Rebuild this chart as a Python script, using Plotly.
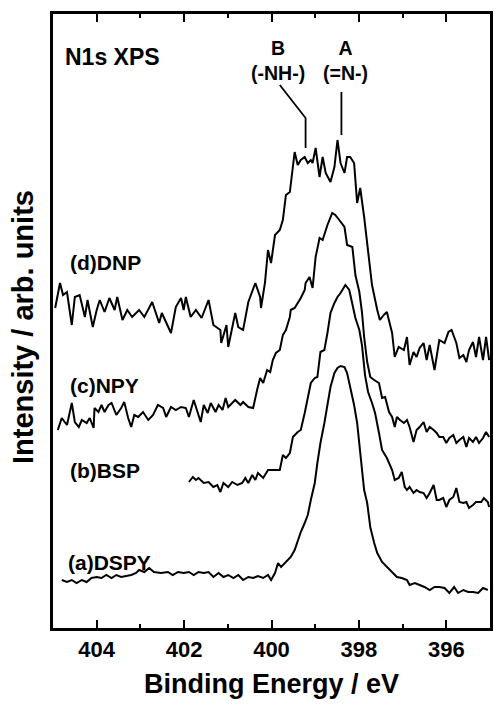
import plotly.graph_objects as go

# ---- data (binding energy in eV, intensity in arb. units) ----
dnp_x = [404.95, 404.84, 404.77, 404.68, 404.57, 404.50, 404.39, 404.27, 404.21, 404.09,
         404.00, 403.93, 403.82, 403.71, 403.59, 403.53, 403.41, 403.30, 403.19, 403.03,
         402.91, 402.73, 402.57, 402.51, 402.30, 402.19, 402.07, 402.01, 401.96, 401.85,
         401.73, 401.60, 401.44, 401.33, 401.17, 401.15, 401.03, 400.99, 400.83, 400.76,
         400.65, 400.53, 400.37, 400.26, 400.24, 400.15, 400.08, 400.01, 399.92, 399.81,
         399.74, 399.67, 399.58, 399.47, 399.40, 399.33, 399.24, 399.17, 399.10, 399.06,
         398.99, 398.90, 398.83, 398.76, 398.65, 398.56, 398.49, 398.42, 398.33, 398.27,
         398.20, 398.11, 398.04, 397.97, 397.88, 397.81, 397.74, 397.70, 397.58, 397.52,
         397.43, 397.36, 397.24, 397.18, 397.09, 396.97, 396.90, 396.84, 396.75, 396.68,
         396.61, 396.52, 396.45, 396.38, 396.27, 396.16, 396.04, 395.95, 395.88, 395.77,
         395.70, 395.61, 395.54, 395.48, 395.39, 395.32, 395.25, 395.16, 395.09, 395.02]
dnp_y = [320, 345, 333, 336, 303, 331, 333, 311, 328, 301,
         318, 328, 316, 330, 318, 331, 308, 318, 311, 318,
         311, 326, 305, 315, 295, 321, 330, 318, 331, 311,
         318, 310, 328, 303, 298, 285, 303, 281, 315, 301,
         298, 326, 345, 331, 320, 345, 378, 365, 393, 398,
         408, 433, 436, 476, 463, 468, 471, 465, 468, 465,
         480, 451, 471, 455, 446, 461, 488, 465, 455, 471,
         471, 465, 425, 440, 411, 385, 358, 343, 318, 308,
         313, 316, 295, 271, 281, 278, 291, 263, 276, 271,
         280, 285, 268, 283, 258, 288, 285, 296, 298, 285,
         270, 273, 266, 278, 286, 271, 291, 268, 291, 268]

npy_x = [404.89, 404.80, 404.68, 404.57, 404.50, 404.41, 404.34, 404.23, 404.16, 404.07,
         404.05, 403.96, 403.89, 403.82, 403.73, 403.66, 403.55, 403.44, 403.37, 403.28,
         403.21, 403.14, 403.05, 402.94, 402.82, 402.71, 402.60, 402.48, 402.41, 402.30,
         402.19, 402.07, 401.96, 401.89, 401.78, 401.69, 401.62, 401.55, 401.46, 401.39,
         401.28, 401.21, 401.12, 401.05, 400.99, 400.90, 400.83, 400.71, 400.65, 400.53,
         400.42, 400.33, 400.26, 400.19, 400.10, 400.03, 399.97, 399.90, 399.81, 399.74,
         399.67, 399.58, 399.56, 399.47, 399.40, 399.33, 399.24, 399.22, 399.13, 399.06,
         398.99, 398.90, 398.83, 398.72, 398.61, 398.54, 398.45, 398.33, 398.27, 398.15,
         398.08, 397.99, 397.93, 397.88, 397.81, 397.74, 397.65, 397.54, 397.47, 397.40,
         397.31, 397.24, 397.18, 397.13, 397.06, 396.97, 396.90, 396.84, 396.75, 396.68,
         396.61, 396.52, 396.45, 396.38, 396.29, 396.22, 396.16, 396.07, 396.00, 395.93,
         395.84, 395.77, 395.70, 395.61, 395.54, 395.48, 395.39, 395.32, 395.25, 395.16,
         395.09, 395.02]
npy_y = [198, 210, 203, 225, 206, 201, 208, 205, 210, 200,
         220, 216, 223, 216, 223, 225, 213, 220, 226, 210,
         201, 213, 211, 216, 208, 213, 223, 220, 211, 221,
         218, 221, 220, 211, 228, 216, 206, 223, 215, 225,
         216, 223, 218, 230, 221, 225, 228, 223, 226, 221,
         220, 238, 250, 245, 258, 256, 268, 275, 278, 293,
         298, 311, 318, 320, 325, 330, 338, 345, 351, 340,
         371, 390, 388, 403, 415, 413, 408, 401, 383, 381,
         353, 336, 316, 291, 266, 251, 248, 245, 230, 231,
         216, 211, 201, 211, 208, 205, 208, 201, 186, 198,
         201, 206, 196, 201, 198, 195, 191, 191, 185, 190,
         193, 185, 188, 191, 181, 190, 186, 191, 185, 190,
         196, 191]

bsp_x = [401.89, 401.80, 401.73, 401.67, 401.55, 401.44, 401.33, 401.24, 401.17, 401.10,
         400.99, 400.90, 400.78, 400.67, 400.60, 400.53, 400.44, 400.37, 400.31, 400.19,
         400.08, 399.97, 399.81, 399.74, 399.67, 399.58, 399.51, 399.40, 399.33, 399.24,
         399.17, 399.10, 399.01, 398.95, 398.88, 398.79, 398.72, 398.65, 398.56, 398.49,
         398.42, 398.38, 398.31, 398.22, 398.15, 398.08, 397.99, 397.93, 397.86, 397.79,
         397.70, 397.63, 397.54, 397.47, 397.36, 397.24, 397.18, 397.09, 397.02, 396.95,
         396.90, 396.84, 396.75, 396.68, 396.61, 396.52, 396.45, 396.38, 396.29, 396.22,
         396.16, 396.07, 396.00, 395.93, 395.84, 395.77, 395.70, 395.61, 395.54, 395.48,
         395.39, 395.32, 395.20, 395.14, 395.05, 395.02]
bsp_y = [146, 151, 148, 150, 145, 146, 141, 143, 136, 145,
         141, 146, 143, 145, 150, 145, 153, 148, 155, 150,
         158, 158, 158, 173, 170, 175, 191, 196, 198, 215,
         231, 245, 250, 251, 276, 278, 295, 315, 325, 331,
         335, 338, 343, 338, 325, 310, 298, 283, 253, 236,
         225, 215, 195, 178, 170, 158, 148, 150, 156, 141,
         138, 141, 135, 138, 136, 135, 130, 135, 143, 128,
         128, 130, 121, 128, 131, 140, 126, 125, 126, 120,
         123, 126, 126, 130, 126, 121]

dspy_x = [404.80, 404.68, 404.57, 404.46, 404.34, 404.23, 404.12, 404.00, 403.89, 403.78,
          403.66, 403.55, 403.44, 403.32, 403.21, 403.10, 403.03, 402.91, 402.80, 402.69,
          402.53, 402.37, 402.26, 402.14, 402.01, 401.89, 401.78, 401.67, 401.55, 401.44,
          401.33, 401.21, 401.10, 400.99, 400.87, 400.76, 400.65, 400.53, 400.42, 400.31,
          400.19, 400.08, 400.01, 399.92, 399.85, 399.78, 399.67, 399.56, 399.47, 399.40,
          399.33, 399.24, 399.17, 399.10, 399.01, 398.95, 398.88, 398.79, 398.72, 398.65,
          398.56, 398.49, 398.42, 398.33, 398.27, 398.20, 398.11, 398.04, 397.97, 397.93,
          397.88, 397.81, 397.74, 397.65, 397.58, 397.47, 397.36, 397.24, 397.13, 397.02,
          396.90, 396.84, 396.72, 396.61, 396.50, 396.38, 396.27, 396.16, 396.04, 395.93,
          395.82, 395.73, 395.61, 395.50, 395.39, 395.27, 395.16, 395.05]
dspy_y = [48, 46, 48, 45, 48, 46, 50, 51, 50, 53,
          50, 53, 51, 52, 53, 55, 58, 56, 60, 56,
          55, 56, 53, 56, 55, 56, 53, 56, 55, 56,
          51, 55, 51, 53, 50, 53, 48, 51, 50, 52,
          50, 53, 48, 55, 65, 61, 66, 71, 78, 88,
          96, 105, 113, 128, 145, 165, 185, 205, 225, 241,
          255, 260, 262, 261, 255, 241, 223, 205, 178, 161,
          138, 125, 101, 85, 75, 66, 61, 55, 51, 50,
          48, 43, 45, 43, 41, 38, 41, 41, 40, 35,
          41, 35, 38, 36, 36, 35, 40, 38]

series_names = ["(d)DNP", "(c)NPY", "(b)BSP", "(a)DSPY"]
label_x = [404.66, 404.66, 404.66, 404.70]
label_y = [366, 243, 158, 66]

x_tick_vals = [404, 402, 400, 398, 396]
x_tick_text = ["404", "402", "400", "398", "396"]

# peak markers: B (-NH-) and A (=N-)
peak_names = ["B<br>(-NH-)", "A<br>(=N-)"]
peak_text_x = [399.85, 398.31]
peak_text_y = [568, 568]
b_lead_x = [399.81, 399.22, 399.22]
b_lead_y = [543, 510, 480]
a_lead_x = [398.40, 398.40]
a_lead_y = [536, 493]

FONT = "Liberation Sans, Arial, sans-serif"

fig = go.Figure()
for xs, ys in [(dnp_x, dnp_y), (npy_x, npy_y), (bsp_x, bsp_y), (dspy_x, dspy_y)]:
    fig.add_trace(go.Scatter(x=xs, y=ys, mode="lines",
                             line=dict(color="black", width=2), showlegend=False))

# leader lines
fig.add_trace(go.Scatter(x=b_lead_x, y=b_lead_y, mode="lines",
                         line=dict(color="black", width=1.8), showlegend=False))
fig.add_trace(go.Scatter(x=a_lead_x, y=a_lead_y, mode="lines",
                         line=dict(color="black", width=1.8), showlegend=False))

annotations = []
for name, lx, ly in zip(series_names, label_x, label_y):
    annotations.append(dict(x=lx, y=ly, xref="x", yref="y", text=name, showarrow=False,
                            xanchor="left", yanchor="middle",
                            font=dict(family=FONT, size=21, color="black", weight="bold")))
for name, px, py in zip(peak_names, peak_text_x, peak_text_y):
    annotations.append(dict(x=px, y=py, xref="x", yref="y", text=name, showarrow=False,
                            xanchor="center", yanchor="middle",
                            font=dict(family=FONT, size=19.5, color="black", weight="bold")))
annotations.append(dict(x=404.77, y=571, xref="x", yref="y", text="N1s XPS", showarrow=False,
                        xanchor="left", yanchor="middle",
                        font=dict(family=FONT, size=23, color="black", weight="bold")))
# axis titles
annotations.append(dict(x=0.5, y=0, xref="paper", yref="paper", text="Binding Energy / eV",
                        showarrow=False, xanchor="center", yanchor="middle", yshift=-56,
                        font=dict(family=FONT, size=27, color="black", weight="bold")))
annotations.append(dict(x=0, y=0.5, xref="paper", yref="paper", text="Intensity / arb. units",
                        showarrow=False, xanchor="center", yanchor="middle", xshift=-30,
                        yshift=-6, textangle=-90,
                        font=dict(family=FONT, size=29, color="black", weight="bold")))

fig.update_layout(
    width=494, height=713,
    margin=dict(l=53, r=1, t=14, b=85),
    paper_bgcolor="white", plot_bgcolor="white",
    font=dict(family=FONT, color="black"),
    annotations=annotations,
    xaxis=dict(range=[405, 395], tickvals=x_tick_vals, ticktext=x_tick_text,
               ticks="inside", ticklen=8, tickwidth=2, tickcolor="black",
               minor=dict(dtick=1, tick0=395, ticks="inside", ticklen=4, tickwidth=2,
                          tickcolor="black", showgrid=False),
               showline=True, linewidth=2.5, linecolor="black", mirror="ticks",
               showgrid=False, zeroline=False,
               tickfont=dict(family=FONT, size=22, color="black", weight="bold")),
    yaxis=dict(range=[0, 614], showticklabels=False, ticks="",
               showline=True, linewidth=2.5, linecolor="black", mirror=True,
               showgrid=False, zeroline=False),
)

fig.write_html("out.html",
               config={"displayModeBar": False},
               post_script="document.body.style.margin='0';"
                           "document.body.style.overflow='hidden';")
